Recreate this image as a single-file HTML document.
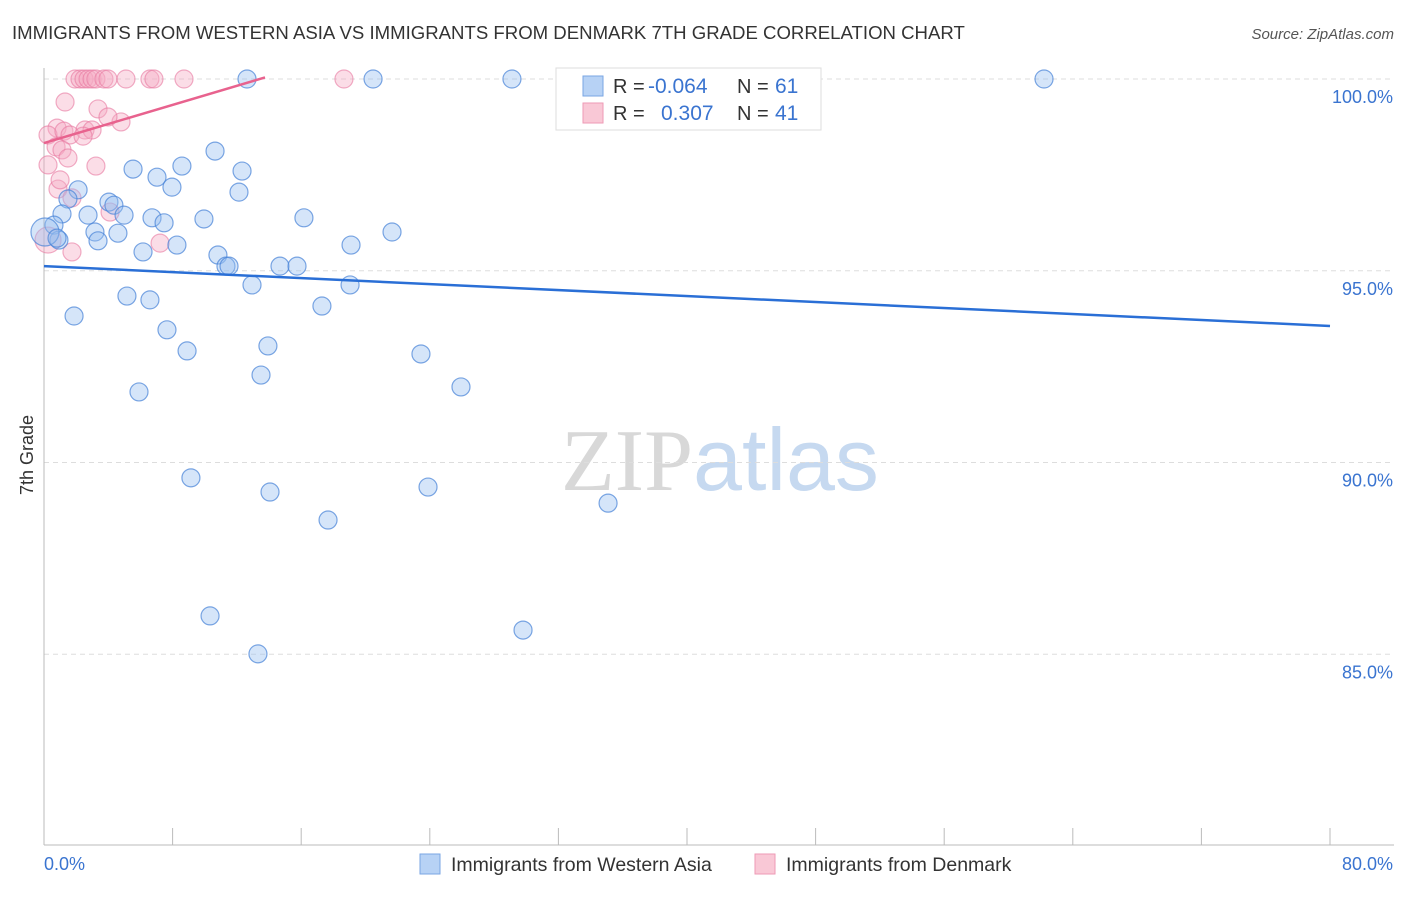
<!DOCTYPE html>
<html><head><meta charset="utf-8">
<style>
body{margin:0;background:#fff;font-family:"Liberation Sans",sans-serif;}
svg text{font-family:"Liberation Sans",sans-serif;}
</style></head>
<body>
<svg id="chart" width="1406" height="892" xmlns="http://www.w3.org/2000/svg">
<text x="12" y="39" font-size="18.6" fill="#333">IMMIGRANTS FROM WESTERN ASIA VS IMMIGRANTS FROM DENMARK 7TH GRADE CORRELATION CHART</text>
<text x="1394" y="39" font-size="15" fill="#555" text-anchor="end" font-style="italic">Source: ZipAtlas.com</text>
<text x="720" y="490" font-size="88" text-anchor="middle"><tspan fill="#d8d8d8" font-family="Liberation Serif">ZIP</tspan><tspan fill="#c6d9f0">atlas</tspan></text>
<text transform="translate(33,455) rotate(-90)" font-size="18" fill="#333" text-anchor="middle">7th Grade</text>
<g id="grid"></g>
<g id="axes"></g>
<g id="pts"></g>
<g id="trend"></g>
<g>
<rect x="556" y="68" width="265" height="62" fill="#fff" stroke="#ddd"/>
<rect x="583" y="76" width="20" height="20" fill="#b7d2f5" stroke="#7aa6e3"/>
<text x="613" y="93" font-size="20" fill="#333">R = </text><text x="648" y="93" font-size="21" fill="#3a74d0">-0.064</text>
<text x="737" y="93" font-size="20" fill="#333">N = </text><text x="775" y="93" font-size="21" fill="#3a74d0">61</text>
<rect x="583" y="103" width="20" height="20" fill="#f9c8d6" stroke="#ee9ab5"/>
<text x="613" y="120" font-size="20" fill="#333">R = </text><text x="661" y="120" font-size="21" fill="#3a74d0">0.307</text>
<text x="737" y="120" font-size="20" fill="#333">N = </text><text x="775" y="120" font-size="21" fill="#3a74d0">41</text>
</g>
<g>
<rect x="420" y="854" width="20" height="20" fill="#b7d2f5" stroke="#7aa6e3"/>
<text x="451" y="871" font-size="19.5" fill="#333">Immigrants from Western Asia</text>
<rect x="755" y="854" width="20" height="20" fill="#f9c8d6" stroke="#ee9ab5"/>
<text x="786" y="871" font-size="19.5" fill="#333">Immigrants from Denmark</text>
</g>
</svg>
<script>
const blueX=[12.63,20.47,29.11,62.21,42.4,5.54,8.58,10.64,12.32,7.03,7.96,12.13,2.12,4.04,4.35,1.49,1.12,2.74,4.98,6.72,7.47,9.95,16.17,0.62,3.17,4.60,3.36,8.27,0.93,6.16,10.82,19.10,21.65,14.68,15.74,11.32,11.51,12.94,19.04,5.16,6.59,17.29,1.87,7.65,13.93,8.90,23.45,13.50,5.91,25.94,9.14,14.06,23.89,17.67,35.09,10.33,29.80,13.31,0.06,0.81];
const blueY=[100,100,100,100,100,97.65,97.73,98.12,97.60,97.44,97.18,97.05,97.11,96.79,96.71,96.87,96.48,96.45,96.45,96.38,96.25,96.35,96.38,96.19,96.01,95.98,95.78,95.67,95.80,95.49,95.41,95.67,96.01,95.12,95.12,95.12,95.12,94.63,94.63,94.34,94.24,94.08,93.82,93.46,93.04,92.91,92.83,92.28,91.84,91.97,89.60,89.23,89.36,88.50,88.94,86.00,85.63,85.01,96.01,95.85];
const pinkX=[1.93,2.24,2.49,2.74,2.99,3.23,3.73,3.98,5.10,6.59,6.84,8.71,18.66,3.36,1.31,4.79,3.98,0.81,0.25,1.24,2.55,1.62,2.99,2.43,0.75,1.12,1.49,0.25,3.23,0.87,1.00,1.74,4.11,7.22,1.74,0.25];
const pinkY=[100,100,100,100,100,100,100,100,100,100,100,100,100,99.22,99.40,98.88,99.01,98.72,98.54,98.64,98.67,98.54,98.67,98.51,98.23,98.15,97.94,97.76,97.73,97.13,97.37,96.90,96.53,95.72,95.49,95.80];
const blueTrend=[[0,95.12],[80,93.56]];
const pinkTrend=[[0,98.33],[13.75,100.04]];
const yTicks=[100,95,90,85];
const yTickLabels=["100.0%","95.0%","90.0%","85.0%"];
const xLabels=["0.0%","80.0%"];

const sx=v=>44+v*1286/80;
const sy=v=>79+(100-v)*38.35;
const NS="http://www.w3.org/2000/svg";
function mk(t,a,p){const e=document.createElementNS(NS,t);for(const k in a)e.setAttribute(k,a[k]);p.appendChild(e);return e;}
const grid=document.getElementById('grid'),axes=document.getElementById('axes'),pts=document.getElementById('pts'),tr=document.getElementById('trend');
yTicks.forEach((v,i)=>{
 const l=mk('line',{x1:44,x2:1394,y1:sy(v),y2:sy(v),stroke:'#ddd','stroke-dasharray':'5,4'},grid);
 
 
 const t=mk('text',{x:1393,y:sy(v)+24,'font-size':18,fill:'#3a74d0','text-anchor':'end'},axes);
 t.textContent=yTickLabels[i];
 
 
});
const ax=mk('line',{x1:44,x2:44,y1:68,y2:845,stroke:'#bbb'},axes);


const bx=mk('line',{x1:44,x2:1394,y1:845,y2:845,stroke:'#bbb'},axes);


for(let i=0;i<=10;i++){const x=44+i*128.6;const tk=mk('line',{x1:x,x2:x,y1:828,y2:845,stroke:'#bbb'},axes);
 
 }
const xl0=mk('text',{x:44,y:870,'font-size':18,fill:'#3a74d0'},axes);xl0.textContent=xLabels[0];


const xl1=mk('text',{x:1393,y:870,'font-size':18,fill:'#3a74d0','text-anchor':'end'},axes);xl1.textContent=xLabels[1];


pinkX.forEach((v,i)=>{const c=mk('circle',{cx:sx(v),cy:sy(pinkY[i]),r:i==pinkX.length-1?13:9,fill:'rgba(245,170,195,0.4)',stroke:'rgba(232,120,160,0.6)','stroke-width':1.2},pts);
 
 });
blueX.forEach((v,i)=>{const c=mk('circle',{cx:sx(v),cy:sy(blueY[i]),r:i==blueX.length-2?14:9,fill:'rgba(150,190,240,0.4)',stroke:'rgba(70,130,215,0.7)','stroke-width':1.2},pts);
 
 });
const bl=mk('line',{x1:sx(blueTrend[0][0]),y1:sy(blueTrend[0][1]),x2:sx(blueTrend[1][0]),y2:sy(blueTrend[1][1]),stroke:'#2a6fd6','stroke-width':2.5},tr);


const pl=mk('line',{x1:sx(pinkTrend[0][0]),y1:sy(pinkTrend[0][1]),x2:sx(pinkTrend[1][0]),y2:sy(pinkTrend[1][1]),stroke:'#e8628e','stroke-width':2.5},tr);


</script>
</body></html>
